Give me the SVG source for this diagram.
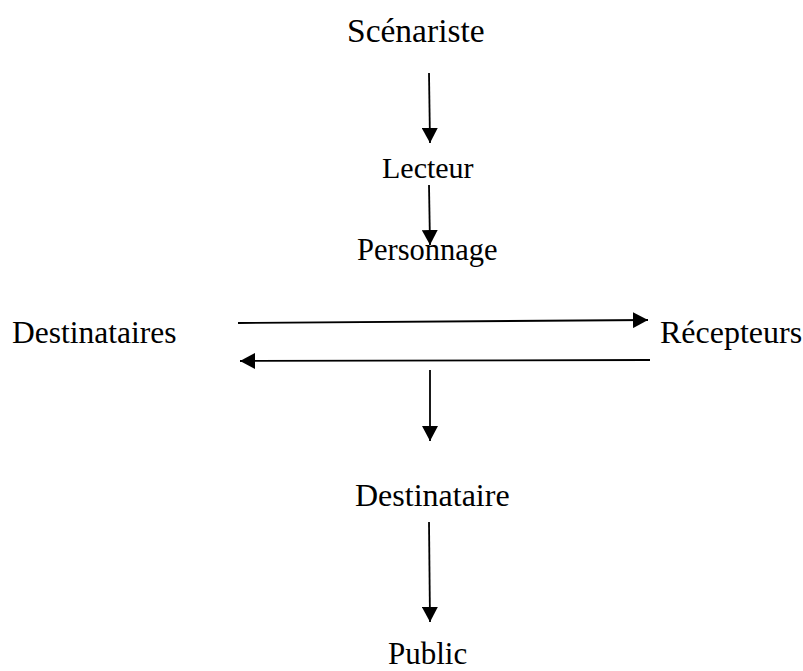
<svg xmlns="http://www.w3.org/2000/svg" width="803" height="671" viewBox="0 0 803 671">
<style>
text{font-family:"Liberation Serif","Times New Roman",serif;fill:#000}
.c line{stroke:#000;stroke-width:1.8;fill:none}
</style>
<defs>
<marker id="ah" markerUnits="userSpaceOnUse" markerWidth="16" markerHeight="16" refX="15" refY="8" orient="auto" viewBox="0 0 16 16">
<path d="M0,0 L15,8 L0,16 z" fill="#000"/>
</marker>
</defs>
<rect width="803" height="671" fill="#fff"/>
<g id="n-scenariste"><text x="347" y="42" font-size="33.5">Scénariste</text></g>
<g id="n-lecteur"><text x="382" y="178" font-size="30">Lecteur</text></g>
<g id="n-personnage"><text x="357" y="260" font-size="30.5">Personnage</text></g>
<g id="n-destinataires"><text x="12" y="343" font-size="31.5">Destinataires</text></g>
<g id="n-recepteurs"><text x="660" y="343" font-size="32">Récepteurs</text></g>
<g id="n-destinataire"><text x="355" y="506" font-size="32">Destinataire</text></g>
<g id="n-public"><text x="388" y="664" font-size="31">Public</text></g>
<g class="c" id="connectors">
<line x1="429" y1="73" x2="430" y2="143" marker-end="url(#ah)"/>
<line x1="429" y1="185" x2="430" y2="245" marker-end="url(#ah)"/>
<line x1="238" y1="323" x2="648" y2="320" marker-end="url(#ah)"/>
<line x1="650" y1="360" x2="240" y2="361" marker-end="url(#ah)"/>
<line x1="430" y1="370" x2="430" y2="441" marker-end="url(#ah)"/>
<line x1="429" y1="522" x2="430" y2="622" marker-end="url(#ah)"/>
</g>
</svg>
